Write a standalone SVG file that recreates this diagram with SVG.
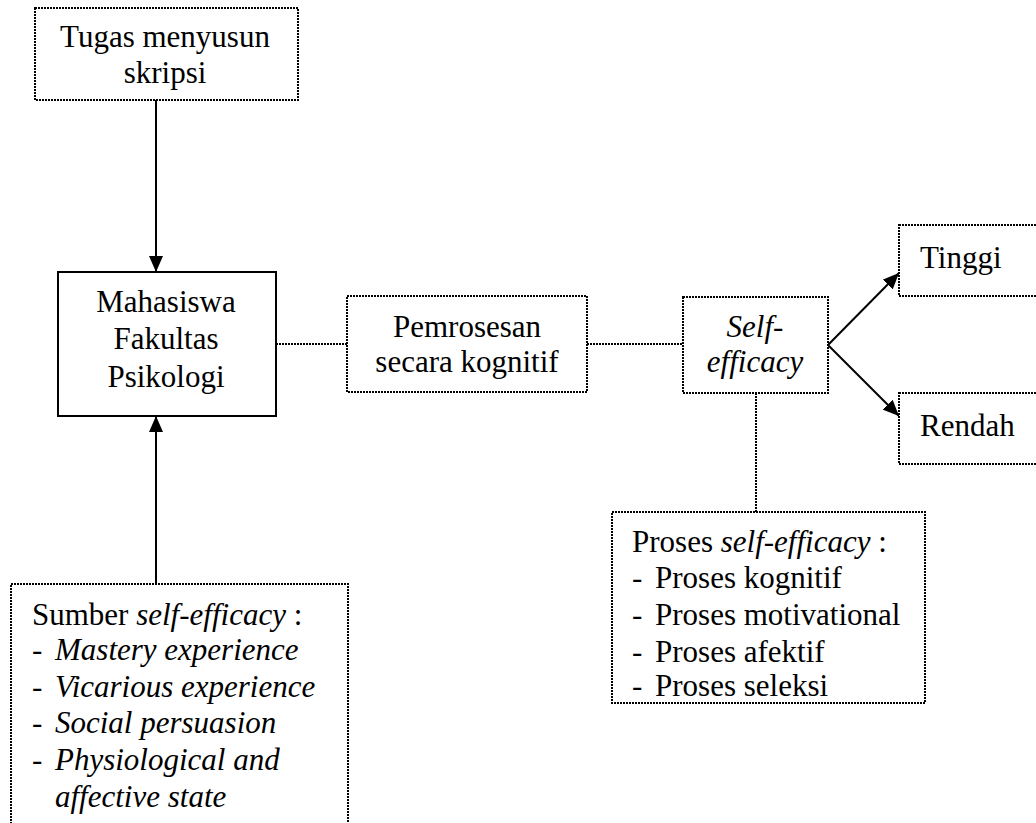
<svg xmlns="http://www.w3.org/2000/svg" width="1036" height="823" viewBox="0 0 1036 823">
<style>
  .dot { fill: #fff; stroke: #000; stroke-width: 2; stroke-dasharray: 2 1; }
  .solid { fill: #fff; stroke: #000; stroke-width: 2; }
  .arrow { stroke: #000; stroke-width: 2; fill: none; marker-end: url(#ah); }
  .dline { stroke: #000; stroke-width: 2; stroke-dasharray: 2 1; fill: none; }
</style>
<defs>
  <marker id="ah" markerUnits="userSpaceOnUse" markerWidth="16" markerHeight="14" refX="16" refY="7" orient="auto">
    <path d="M0,0 L16,7 L0,14 Z" fill="#000"/>
  </marker>
</defs>
<rect width="1036" height="823" fill="#fff"/>
<g id="connectors">
  <line class="arrow" x1="156" y1="100" x2="156" y2="272"/>
  <line class="arrow" x1="156" y1="584" x2="156" y2="416"/>
  <line class="dline" x1="276" y1="344" x2="347" y2="344"/>
  <line class="dline" x1="587" y1="344" x2="683" y2="344"/>
  <line class="arrow" x1="828" y1="345" x2="899" y2="273"/>
  <line class="arrow" x1="828" y1="345" x2="899" y2="416"/>
  <line class="dline" x1="756" y1="393" x2="756" y2="512"/>
</g>
<g id="tugas" font-family="Liberation Serif" font-size="31" text-anchor="middle">
  <rect class="dot" x="35" y="8" width="263" height="92"/>
  <text x="165" y="47">Tugas menyusun</text>
  <text x="165" y="83">skripsi</text>
</g>
<g id="mahasiswa" font-family="Liberation Serif" font-size="31" text-anchor="middle">
  <rect class="solid" x="58" y="272" width="218" height="144"/>
  <text x="166" y="312">Mahasiswa</text>
  <text x="166" y="349">Fakultas</text>
  <text x="166" y="387">Psikologi</text>
</g>
<g id="pemrosesan" font-family="Liberation Serif" font-size="31" text-anchor="middle">
  <rect class="dot" x="347" y="296" width="240" height="96"/>
  <text x="467" y="337">Pemrosesan</text>
  <text x="467" y="372">secara kognitif</text>
</g>
<g id="selfefficacy" font-family="Liberation Serif" font-size="31" text-anchor="middle" font-style="italic">
  <rect class="dot" x="683" y="297" width="145" height="96"/>
  <text x="755" y="337">Self-</text>
  <text x="755" y="372">efficacy</text>
</g>
<g id="tinggi" font-family="Liberation Serif" font-size="31">
  <rect class="dot" x="899" y="225" width="150" height="71"/>
  <text x="920" y="268">Tinggi</text>
</g>
<g id="rendah" font-family="Liberation Serif" font-size="31">
  <rect class="dot" x="899" y="393" width="150" height="71"/>
  <text x="920" y="436">Rendah</text>
</g>
<g id="proses" font-family="Liberation Serif" font-size="31">
  <rect class="dot" x="612" y="512" width="313" height="191"/>
  <text x="632" y="552">Proses <tspan font-style="italic">self-efficacy</tspan> :</text>
  <text x="632" y="588">-</text><text x="655" y="588">Proses kognitif</text>
  <text x="632" y="625">-</text><text x="655" y="625">Proses motivational</text>
  <text x="632" y="662">-</text><text x="655" y="662">Proses afektif</text>
  <text x="632" y="696">-</text><text x="655" y="696">Proses seleksi</text>
</g>
<g id="sumber" font-family="Liberation Serif" font-size="31">
  <rect class="dot" x="11" y="584" width="337" height="260"/>
  <text x="32" y="625">Sumber <tspan font-style="italic">self-efficacy</tspan> :</text>
  <text x="32" y="660">-</text><text font-style="italic" x="55" y="660">Mastery experience</text>
  <text x="32" y="697">-</text><text font-style="italic" x="55" y="697">Vicarious experience</text>
  <text x="32" y="733">-</text><text font-style="italic" x="55" y="733">Social persuasion</text>
  <text x="32" y="770">-</text><text font-style="italic" x="55" y="770">Physiological and</text>
  <text font-style="italic" x="55" y="807">affective state</text>
</g>
</svg>
